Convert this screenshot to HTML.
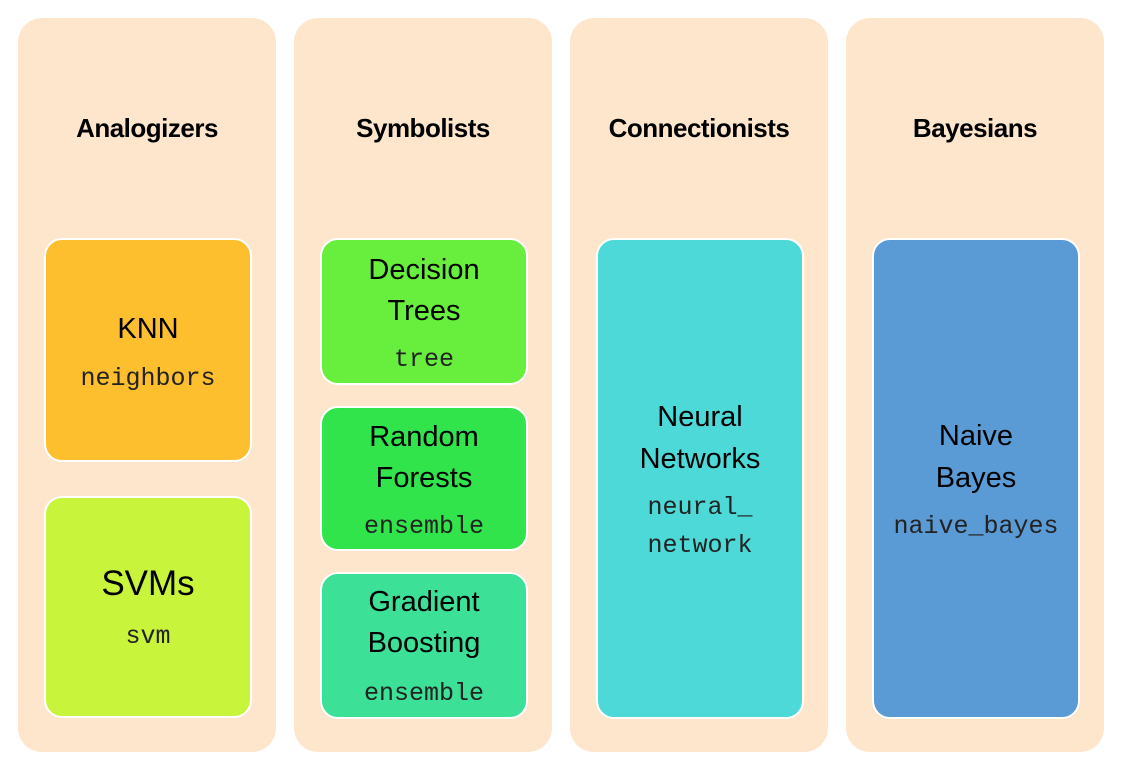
<!DOCTYPE html>
<html><head><meta charset="utf-8"><style>
body{margin:0;width:1122px;height:770px;background:#fff;position:relative;overflow:hidden;font-family:"Liberation Sans",sans-serif}
.col{position:absolute;top:18px;width:258px;height:734px;background:#fee6cd;border-radius:24px}
.h{position:absolute;width:258px;top:95px;text-align:center;font-weight:bold;font-size:26px;color:#000;letter-spacing:-0.5px}
.b{position:absolute;border:2px solid #fff;border-radius:18px;box-sizing:border-box}
.t{position:absolute;left:0;right:0;text-align:center;font-size:29px;color:#000;line-height:1}
.m{position:absolute;left:0;right:0;text-align:center;font-family:"Liberation Mono",monospace;font-size:25px;color:#222;line-height:1}
</style></head><body>
<div class="col" style="left:18px"><div class="h">Analogizers</div></div>
<div class="col" style="left:294px"><div class="h">Symbolists</div></div>
<div class="col" style="left:570px"><div class="h">Connectionists</div></div>
<div class="col" style="left:846px"><div class="h">Bayesians</div></div>

<div class="b" style="left:44px;top:238px;width:208px;height:224px;background:#febf2e">
<div class="t" style="top:75px">KNN</div><div class="m" style="top:126px">neighbors</div></div>
<div class="b" style="left:44px;top:496px;width:208px;height:222px;background:#c8f53b">
<div class="t" style="top:68px;font-size:35px">SVMs</div><div class="m" style="top:126px">svm</div></div>

<div class="b" style="left:320px;top:238px;width:208px;height:147px;background:#68ee3d">
<div class="t" style="top:16px">Decision</div><div class="t" style="top:57px">Trees</div><div class="m" style="top:107px">tree</div></div>
<div class="b" style="left:320px;top:406px;width:208px;height:145px;background:#31e44c">
<div class="t" style="top:15px">Random</div><div class="t" style="top:56px">Forests</div><div class="m" style="top:106px">ensemble</div></div>
<div class="b" style="left:320px;top:572px;width:208px;height:147px;background:#3ce096">
<div class="t" style="top:14px">Gradient</div><div class="t" style="top:55px">Boosting</div><div class="m" style="top:107px">ensemble</div></div>

<div class="b" style="left:596px;top:238px;width:208px;height:481px;background:#4ed9d9">
<div class="t" style="top:163px">Neural</div><div class="t" style="top:205px">Networks</div><div class="m" style="top:255px">neural_</div><div class="m" style="top:293px">network</div></div>

<div class="b" style="left:872px;top:238px;width:208px;height:481px;background:#5b9bd5">
<div class="t" style="top:182px">Naive</div><div class="t" style="top:224px">Bayes</div><div class="m" style="top:274px">naive_bayes</div></div>
</body></html>
